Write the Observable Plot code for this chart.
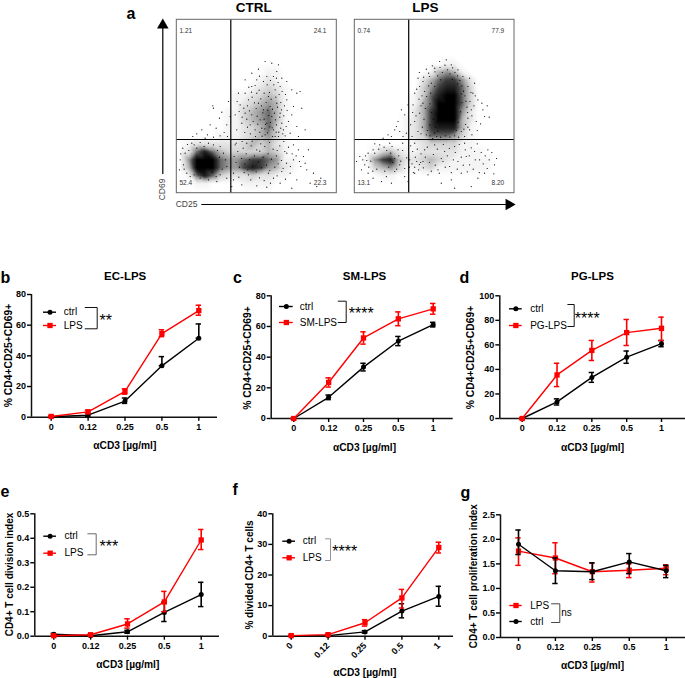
<!DOCTYPE html>
<html><head><meta charset="utf-8">
<script src="https://cdn.jsdelivr.net/npm/d3@7"></script>
<script src="https://cdn.jsdelivr.net/npm/@observablehq/plot@0.6"></script>
<style>
html,body{margin:0;padding:0;background:#fff}
#page{position:relative;width:685px;height:678px;overflow:hidden;font-family:"Liberation Sans",Arial,sans-serif}
#page svg{position:absolute;background:transparent;max-width:none}
</style></head><body><div id="page"></div>
<script>
// ---------- data ----------
const doses = ["0","0.12","0.25","0.5","1"];

const bCtrl=[0.3,1.3,10.5,33.5,51.5], bCtrlLo=[0,0.5,9,33.5,51.5], bCtrlHi=[0.6,2.5,12.5,39.5,60.8];
const bLps=[0.5,3.5,16.8,54.5,69.5], bLpsLo=[0.2,2.5,15,52.5,66.5], bLpsHi=[0.8,4.5,18.5,57,73];

const cCtrl=[0,13.8,33.5,50.5,61.2], cCtrlLo=[0,12.3,31,47.5,59.7], cCtrlHi=[0,15.3,36,53.5,62.7];
const cSm=[0,23.5,52.5,65,71.5], cSmLo=[0,20.5,48.5,60.5,68], cSmHi=[0,26.5,56.5,69.5,75];

const dCtrl=[0,13.5,33.5,50,61], dCtrlLo=[0,11,29.5,45,58.5], dCtrlHi=[0,16,37.5,55,63.5];
const dPg=[0,35.5,55.5,70,73.5], dPgLo=[0,26,47.3,59.5,63.6], dPgHi=[0,45,63.6,80.7,82.6];

const eCtrl=[0.008,0.002,0.018,0.097,0.17], eCtrlLo=[0.004,0,0.012,0.06,0.121], eCtrlHi=[0.012,0.004,0.024,0.139,0.22];
const eLps=[0.002,0.006,0.05,0.14,0.393], eLpsLo=[0,0.003,0.033,0.1,0.354], eLpsHi=[0.004,0.009,0.071,0.183,0.436];

const fCtrl=[0.1,0.2,1.4,8.2,13], fCtrlLo=[0,0.1,1,6,9.8], fCtrlHi=[0.2,0.3,1.8,10.6,16.3];
const fLps=[0.2,0.5,4.4,12.5,29], fLpsLo=[0.1,0.3,3.3,9.2,27.2], fLpsHi=[0.3,0.7,5.4,15.3,30.7];

const gCtrl=[1.9,1.36,1.34,1.54,1.36], gCtrlLo=[1.69,1.1,1.18,1.3,1.22], gCtrlHi=[2.19,1.62,1.52,1.71,1.47];
const gLps=[1.76,1.62,1.34,1.37,1.41], gLpsLo=[1.47,1.3,1.13,1.22,1.28], gLpsHi=[2.03,1.93,1.52,1.5,1.48];

// flow cytometry density levels (0-9), read row by row from the top of each dot plot
const ctrlDensity=[
"00000000000000000000","00000000000000000000","00000000000000000000","00000000000000000000","00000000000000000000",
"00000000000000000000","00000000000110000000","00000000001210000000","00000000012321000000","00000001123431000000",
"00000001234541000000","00000011345641000000","00000011345641000000","00000011234631000000","00000111234531000000",
"01222222343421000000","12686433333431000000","15999655677651100000","14999655787542100000","01686322232211000000",
"00110000111100000000","00000000000000000000"];
const lpsDensity=[
"00000000000000000000","00000000000000000000","00000000000000000000","00000000000000000000","00000000000000000000",
"00000000000110000000","00000000014541000000","00000000246775200000","00000000357886300000","00000001368996300000",
"00000001469996300000","00000002479995200000","00000012479994200000","00000012478884100000","00000012366653100000",
"00000001233331100000","00134211222221110000","01578422343211111000","00345311231111111000","00011000000000000000",
"00000000000000000000","00000000000000000000"];
// individual events (CD25 channel, CD69 channel)
const ctrlEvents=[[60,178],[75,190],[92,175],[110,168],[100,205],[118,195],[128,225],[110,255],[108,262],[135,243],[150,205],[142,182],[155,275],[160,230],[85,165],[48,170],[130,172],[152,170],
[265,395],[285,390],[305,385],[245,372],[300,365],[225,360],[270,350],[315,345],[205,340],[260,335],[330,335],[185,300],[345,310],[360,300],[375,255],[370,305],[350,260],[335,215],[360,200],[385,190],[340,180],[365,170],[320,190],[205,300],[190,265],[175,235],[195,210],[180,190],[215,280],[225,320],[240,340],[290,350],[310,320],[330,280],[345,235],
[270,210],[285,230],[290,190],[260,250],[300,270],[275,290],[250,220],[245,270],[225,235],[310,240],[295,170],[265,175],[235,190],[280,260],[262,300],[295,310],[240,300],[315,210],[255,195],[220,205],[205,240],
[330,120],[350,100],[365,130],[372,80],[340,60],[390,70],[380,110],[400,30],[420,20],[310,30],[270,18],[345,15],[290,45],[240,22],[360,40],[315,65],[395,130],[350,145],[275,60],
[10,100],[20,85],[8,70],[30,60],[45,150],[60,135],[25,120],[95,40],[120,35],[130,55],[150,45],[170,40],[195,25],[215,55],[165,20],[95,150],[130,140],[175,145],[210,150],[240,130],
[212,262],[218,247],[226,288],[233,271],[238,254],[241,231],[247,309],[252,283],[254,262],[258,241],[262,222],[266,206],[268,272],[271,325],[273,249],[276,233],[278,302],[281,212],[283,282],[286,196],[287,252],[291,325],[293,240],[296,220],[297,288],[299,205],[302,258],[304,332],[306,183],[307,296],[309,228],[312,272],[314,250],[316,305],[318,178],[321,232],[323,262],[326,296],[328,200],[331,248],
[204,182],[212,198],[221,178],[229,215],[236,170],[243,207],[249,183],[256,171],[264,193],[272,181],[279,199],[287,170],[298,183],[305,170],[312,195],[325,172],[196,228],[201,255],[210,222],[216,318],[187,245],[181,275],[224,303],[235,323],[248,351],[281,338],[299,345],
[172,110],[178,92],[183,125],[188,78],[194,104],[199,135],[204,88],[208,118],[213,70],[218,100],[223,142],[228,82],[233,112],[238,64],[244,94],[249,126],[254,76],[259,108],[264,140],[269,84],[274,118],[279,68],[284,102],[289,132],[294,78],[299,112],[304,88],[309,142],[314,98],[319,74],[324,125],[329,90],[335,138],[341,80],[346,118],
[170,60],[186,48],[202,62],[222,40],[248,46],[262,38],[281,30],[301,52],[326,42],[178,150],[196,155],[226,156],[252,148],[278,152],[301,128],[321,155],[358,112],[368,95],[385,90],[410,60],[432,45],
[18,135],[32,146],[12,118],[36,128],[52,145],[70,152],[82,140],[110,145],[122,128],[140,120],[146,100],[150,80],[136,72],[118,50],[105,62],[70,45],[52,55],[40,50],[22,72],[128,108]];
const lpsEvents=[[100,175],[120,190],[130,215],[140,250],[150,235],[125,200],[110,170],[155,180],[135,185],[85,165],[160,265],[145,170],
[255,395],[275,400],[290,385],[240,375],[310,370],[325,350],[225,350],[205,335],[190,345],[340,320],[355,300],[370,280],[385,250],[390,230],[350,250],[365,215],[345,190],[330,170],[180,300],[175,265],[195,240],[180,215],[190,185],[172,170],[210,305],[225,205],[215,175],[240,180],[320,185],[340,225],[205,270],[195,320],[360,330],[345,345],[230,330],
[180,150],[210,130],[240,145],[270,125],[300,140],[330,150],[360,125],[375,100],[345,85],[390,60],[370,45],[320,60],[285,80],[250,70],[220,55],[205,95],[180,60],[260,30],[300,15],[350,20],[290,40],[335,110],[310,95],[265,95],[400,130],[420,85],
[5,95],[15,110],[30,85],[20,70],[40,60],[55,130],[75,145],[105,150],[130,130],[40,120],[95,50],[120,65],[150,50],[135,85],[110,30],[160,35],[80,35],[55,45],
[215,372],[222,360],[233,382],[241,364],[249,352],[256,377],[263,362],[271,384],[279,370],[286,358],[294,376],[301,362],[309,352],[316,338],[322,322],[327,306],[331,292],[334,276],[337,258],[339,242],[333,206],[328,192],[222,322],[216,290],[212,254],[208,222],[203,198],[199,178],[218,188],[226,172],[234,164],[246,170],[258,168],[272,172],[286,168],[300,172],[312,168],[346,275],[352,232],[358,262],[362,292],[349,302],[199,262],[193,282],[186,312],[174,242],[168,205],[184,232],[202,292],[207,348],[194,362],[340,198],[352,175],[368,188],[378,208],[382,270],[398,262],[404,228],
[258,340],[240,320],[228,300],[226,268],[231,242],[236,222],[243,198],[250,186],[305,188],[311,212],[318,244],[322,272],[320,298],[309,328],[293,342],
[168,142],[174,125],[182,108],[188,132],[194,86],[199,118],[206,76],[212,108],[218,138],[224,92],[230,66],[236,116],[242,84],[248,132],[254,60],[260,104],[266,146],[272,78],[278,112],[284,134],[290,62],[296,100],[302,122],[308,72],[314,146],[320,108],[326,84],[332,130],[338,64],[344,112],[350,136],[356,72],[362,100],[368,148],[374,62],[380,122],[386,88],[392,112],[398,74],[404,100],[412,122],[418,58],[426,104],
[165,100],[172,88],[180,78],[186,95],[192,70],[198,92],[164,78],[176,62],
[24,100],[32,112],[42,78],[48,96],[54,66],[60,120],[66,72],[72,132],[90,66],[96,128],[102,78],[108,120],[114,92],[120,104],[126,72],[132,112],[138,96],[144,128],[150,74],[156,106],[112,140],[88,138],[144,150],[60,148],[36,98]];

// ---------- helpers ----------
const FONT="Liberation Sans";
const page=document.getElementById("page");
function place(svg,box){svg.style.left=box[0]+"px";svg.style.top=box[1]+"px";page.appendChild(svg);}
const table=(v,lo,hi)=>v.map((y,i)=>({i,y,lo:lo[i],hi:hi[i]}));
const BLACK="#000000", RED="#ff0000";
const styleOf={ctrl:{color:BLACK,symbol:"circle",r:2.5},red:{color:RED,symbol:"square",r:3}};

function panel(p){
  const [L,T,R,B]=p.box, {axisX,top,bottom,end,p0,p1,ymax}=p;
  const step=(p1-p0)/4;
  const lo=-(p0-axisX)/step, hi=4+(end-p1)/step;
  const sx=px=>lo+(px-axisX)/step, sy=py=>ymax*(bottom-py)/(bottom-top);
  const cap=2.7/step;
  const pxText=(txt,x,y,o)=>Plot.text([txt],{x:()=>sx(x),y:()=>sy(y),text:d=>d,fill:BLACK,...o});
  const marks=[];
  marks.push(Plot.ruleY([0],{x1:lo,x2:hi,stroke:"#111",strokeWidth:1.5}));
  marks.push(Plot.ruleX([lo],{y1:0,y2:ymax,stroke:"#111",strokeWidth:1.5}));
  marks.push(Plot.axisY({ticks:p.yticks,tickSize:4,tickPadding:1.5,fontSize:9,fontWeight:"bold",strokeWidth:1.4,
    tickFormat:p.yfmt?d3.format(p.yfmt):d=>d,label:null,fill:BLACK}));
  marks.push(Plot.axisX({ticks:[0,1,2,3,4],tickSize:4,tickPadding:p.rotate?4:2,fontSize:9,fontWeight:"bold",strokeWidth:1.4,
    tickRotate:p.rotate||0,tickFormat:i=>doses[i],label:null,fill:BLACK}));
  for(const s of p.series){
    const st=styleOf[s.kind];
    marks.push(Plot.line(s.data,{x:"i",y:"y",stroke:st.color,strokeWidth:1.4}));
    marks.push(Plot.ruleX(s.data,{x:"i",y1:"lo",y2:"hi",stroke:st.color,strokeWidth:1.6}));
    marks.push(Plot.ruleY(s.data,{y:"hi",x1:d=>d.i-cap,x2:d=>d.i+cap,stroke:st.color,strokeWidth:1.5}));
    marks.push(Plot.ruleY(s.data,{y:"lo",x1:d=>d.i-cap,x2:d=>d.i+cap,stroke:st.color,strokeWidth:1.5}));
    marks.push(Plot.dot(s.data,{x:"i",y:"y",fill:st.color,symbol:st.symbol,r:st.r}));
  }
  // legend
  const lg=p.legend;
  for(const row of lg.rows){
    const st=styleOf[row.kind];
    marks.push(Plot.ruleY([sy(row.y)],{x1:sx(lg.x0),x2:sx(lg.x1),stroke:st.color,strokeWidth:1.4}));
    marks.push(Plot.dot([row],{x:()=>sx((lg.x0+lg.x1)/2),y:()=>sy(row.y),fill:st.color,symbol:st.symbol,r:st.r}));
    marks.push(pxText(row.name,lg.tx,row.y,{textAnchor:"start",fontSize:10}));
  }
  const br=lg.bracket;
  const brY0=sy(br.y0), brY1=sy(br.y1), brX0=sx(br.x0), brX1=sx(br.x1);
  marks.push(Plot.line([[brX0,brY0],[brX1,brY0],[brX1,brY1],[brX0,brY1]],{x:d=>d[0],y:d=>d[1],stroke:br.color,strokeWidth:br.w}));
  marks.push(pxText(lg.sig,lg.sx,lg.sy,{textAnchor:"start",fontSize:lg.sig==="ns"?10:16,dy:lg.sig==="ns"?0:3}));
  // titles & labels
  if(p.title) marks.push(pxText(p.title,p.tx,275.7,{fontSize:11.5,fontWeight:"bold"}));
  marks.push(pxText("\u03b1CD3 [\u00b5g/ml]",p.xl[0],p.xl[1],{fontSize:10.2,fontWeight:"bold"}));
  marks.push(pxText(p.yl[2],p.yl[0],p.yl[1],{fontSize:p.yl[3]||10,fontWeight:"bold",rotate:-90}));
  marks.push(pxText(p.letter[0],p.letter[1],p.letter[2],{fontSize:16,fontWeight:"bold",textAnchor:"start"}));
  const svg=Plot.plot({width:R-L,height:B-T,marginLeft:axisX-L,marginRight:R-end,marginTop:top-T,marginBottom:B-bottom,
    style:{background:"transparent",fontFamily:FONT},
    x:{type:"linear",domain:[lo,hi],axis:null,label:null},y:{type:"linear",domain:[0,ymax],nice:false,label:null},marks});
  place(svg,p.box);
}

function dotplot(box,frame,title,titleX,density,events,q){
  const pts=[];
  density.forEach((row,k)=>[...row].forEach((c,j)=>pts.push({x:12+24*j,y:508-24*k,v:+c})));
  const svg=Plot.plot({width:box[2]-box[0],height:box[3]-box[1],
    marginLeft:frame[0]-box[0],marginRight:box[2]-frame[2],marginTop:frame[1]-box[1],marginBottom:box[3]-frame[3],
    style:{background:"transparent",fontFamily:FONT},
    x:{domain:[0,480],axis:null},y:{domain:[0,520],axis:null},
    color:{type:"linear",domain:[0,1,3,5,7,9],range:["#ffffff","#f4f4f4","#d4d4d4","#999999","#3c3c3c","#000000"],legend:false},
    marks:[
      Plot.raster(pts,{x:"x",y:"y",fill:"v",interpolate:"barycentric"}),
      Plot.dot(events,{x:d=>d[0],y:d=>d[1],r:0.6,fill:"#000"}),
      Plot.ruleX([162],{y1:0,y2:520,stroke:"#000",strokeWidth:1.2}),
      Plot.ruleY([161],{x1:0,x2:480,stroke:"#000",strokeWidth:1.2}),
      Plot.rect([0],{x1:0,x2:480,y1:0,y2:520,stroke:"#666",fill:"none",strokeWidth:1}),
      Plot.text([q[0]],{x:8,y:486,text:d=>d,textAnchor:"start",fontSize:6.5,fill:"#333"}),
      Plot.text([q[1]],{x:449,y:486,text:d=>d,textAnchor:"end",fontSize:6.5,fill:"#333"}),
      Plot.text([q[2]],{x:8,y:32,text:d=>d,textAnchor:"start",fontSize:6.5,fill:"#333"}),
      Plot.text([q[3]],{x:449,y:32,text:d=>d,textAnchor:"end",fontSize:6.5,fill:"#333"}),
      Plot.text([title],{x:titleX,y:520+3*(19.3-7.6),text:d=>d,fontSize:13.5,fontWeight:"bold",fill:"#000"})
    ]});
  place(svg,box);
}

function chrome(box,marks){
  const svg=Plot.plot({width:box[2]-box[0],height:box[3]-box[1],margin:0,
    style:{background:"transparent",fontFamily:FONT},
    x:{domain:[box[0],box[2]],range:[0,box[2]-box[0]],axis:null},
    y:{domain:[box[1],box[3]],range:[0,box[3]-box[1]],axis:null},marks});
  place(svg,box);
}

// ---------- panel a ----------
chrome([120,0,175,205],[
  Plot.text(["a"],{x:126,y:13,text:d=>d,fontSize:16,fontWeight:"bold",textAnchor:"start",fill:"#000"}),
  Plot.ruleX([162.3],{y1:174,y2:28,stroke:"#000",strokeWidth:1.2}),
  Plot.dot([0],{x:162.3,y:24.6,symbol:"triangle",r:4.3,fill:"#000"}),
  Plot.text(["CD69"],{x:161.7,y:189,text:d=>d,rotate:-90,fontSize:8.5,fill:"#444"})
]);
chrome([175,196,530,215],[
  Plot.text(["CD25"],{x:186,y:204,text:d=>d,fontSize:8.5,fill:"#444"}),
  Plot.ruleY([204],{x1:201.3,x2:506,stroke:"#000",strokeWidth:1.2}),
  Plot.dot([0],{x:508.4,y:204,symbol:"triangle",r:4.3,fill:"#000",rotate:90})
]);
dotplot([175,0,345,196],[176.3,19.3,336.3,192.7],"CTRL",231,ctrlDensity,ctrlEvents,["1.21","24.1","52.4","22.3"]);
dotplot([345,0,530,196],[354.3,19.3,514,192.7],"LPS",212,lpsDensity,lpsEvents,["0.74","77.9","13.1","8.20"]);

// ---------- panels b-g ----------
const yLabelCD="% CD4+CD25+CD69+";
panel({box:[0,262,228,470],letter:["b",0,277],axisX:31,top:294,bottom:416.7,end:217,p0:50.7,p1:198.3,ymax:80,yticks:[0,20,40,60,80],
  title:"EC-LPS",tx:124.7,xl:[124.3,445],yl:[8.7,355,yLabelCD,10.3],
  series:[{kind:"ctrl",data:table(bCtrl,bCtrlLo,bCtrlHi)},{kind:"red",data:table(bLps,bLpsLo,bLpsHi)}],
  legend:{x0:43,x1:56,tx:63.3,rows:[{name:"ctrl",y:311.7,kind:"ctrl"},{name:"LPS",y:325,kind:"red"}],
    bracket:{x0:84.7,x1:96.7,y0:307,y1:328.3,color:"#111",w:1},sig:"**",sx:99,sy:317.3}});
panel({box:[228,262,455,470],letter:["c",232.5,277],axisX:270.7,top:295.3,bottom:418,end:452.7,p0:293.3,p1:432.7,ymax:80,yticks:[0,20,40,60,80],
  title:"SM-LPS",tx:364,xl:[364,447.7],yl:[247.3,357.5,yLabelCD,10.3],
  series:[{kind:"ctrl",data:table(cCtrl,cCtrlLo,cCtrlHi)},{kind:"red",data:table(cSm,cSmLo,cSmHi)}],
  legend:{x0:279,x1:292.7,tx:299.3,rows:[{name:"ctrl",y:306,kind:"ctrl"},{name:"SM-LPS",y:322,kind:"red"}],
    bracket:{x0:337.7,x1:345.7,y0:300.7,y1:322,color:"#111",w:1},sig:"****",sx:348.3,sy:310.7}});
panel({box:[455,262,685,470],letter:["d",459,277],axisX:499.3,top:295.3,bottom:418,end:685,p0:521.7,p1:661,ymax:100,yticks:[0,20,40,60,80,100],
  title:"PG-LPS",tx:592,xl:[592,447.7],yl:[470.7,357,yLabelCD,10.3],
  series:[{kind:"ctrl",data:table(dCtrl,dCtrlLo,dCtrlHi)},{kind:"red",data:table(dPg,dPgLo,dPgHi)}],
  legend:{x0:509,x1:521.7,tx:529.7,rows:[{name:"ctrl",y:308.3,kind:"ctrl"},{name:"PG-LPS",y:325,kind:"red"}],
    bracket:{x0:567.3,x1:573.7,y0:304,y1:326,color:"#111",w:1},sig:"****",sx:574.3,sy:315}});
panel({box:[0,478,228,678],letter:["e",0,491],axisX:34.3,top:513.3,bottom:635.7,end:219,p0:53.3,p1:200.7,ymax:0.5,yticks:[0,0.1,0.2,0.3,0.4,0.5],yfmt:".1f",
  xl:[127.3,664.3],yl:[9,574,"CD4+ T cell division index"],
  series:[{kind:"ctrl",data:table(eCtrl,eCtrlLo,eCtrlHi)},{kind:"red",data:table(eLps,eLpsLo,eLpsHi)}],
  legend:{x0:43.3,x1:56,tx:64,rows:[{name:"ctrl",y:535.7,kind:"ctrl"},{name:"LPS",y:552.7,kind:"red"}],
    bracket:{x0:87.3,x1:95.7,y0:533.3,y1:554.3,color:"#444",w:0.8},sig:"***",sx:99,sy:543.3}});
panel({box:[228,478,455,678],letter:["f",232,489],axisX:272.3,top:513.3,bottom:635.7,end:453,p0:290.7,p1:438.3,ymax:40,yticks:[0,10,20,30,40],rotate:-45,
  xl:[364.3,672],yl:[249,574.5,"% divided CD4+ T cells"],
  series:[{kind:"ctrl",data:table(fCtrl,fCtrlLo,fCtrlHi)},{kind:"red",data:table(fLps,fLpsLo,fLpsHi)}],
  legend:{x0:282.3,x1:295,tx:302.3,rows:[{name:"ctrl",y:540.7,kind:"ctrl"},{name:"LPS",y:557.3,kind:"red"}],
    bracket:{x0:325,x1:330,y0:538.3,y1:560,color:"#888",w:0.9},sig:"****",sx:331.7,sy:548.3}});
panel({box:[455,478,685,678],letter:["g",460,492],axisX:500,top:514.3,bottom:637,end:685,p0:518,p1:665.7,ymax:2.5,yticks:[0,0.5,1,1.5,2,2.5],yfmt:".1f",
  xl:[592,665.7],yl:[473.7,575.7,"CD4+ T cell proliferation index"],
  series:[{kind:"red",data:table(gLps,gLpsLo,gLpsHi)},{kind:"ctrl",data:table(gCtrl,gCtrlLo,gCtrlHi)}],
  legend:{x0:509.3,x1:521.7,tx:529.7,rows:[{name:"LPS",y:605,kind:"red"},{name:"ctrl",y:621,kind:"ctrl"}],
    bracket:{x0:551,x1:559.3,y0:603.3,y1:622,color:"#333",w:0.9},sig:"ns",sx:560.7,sy:612.3}});
</script></body></html>
